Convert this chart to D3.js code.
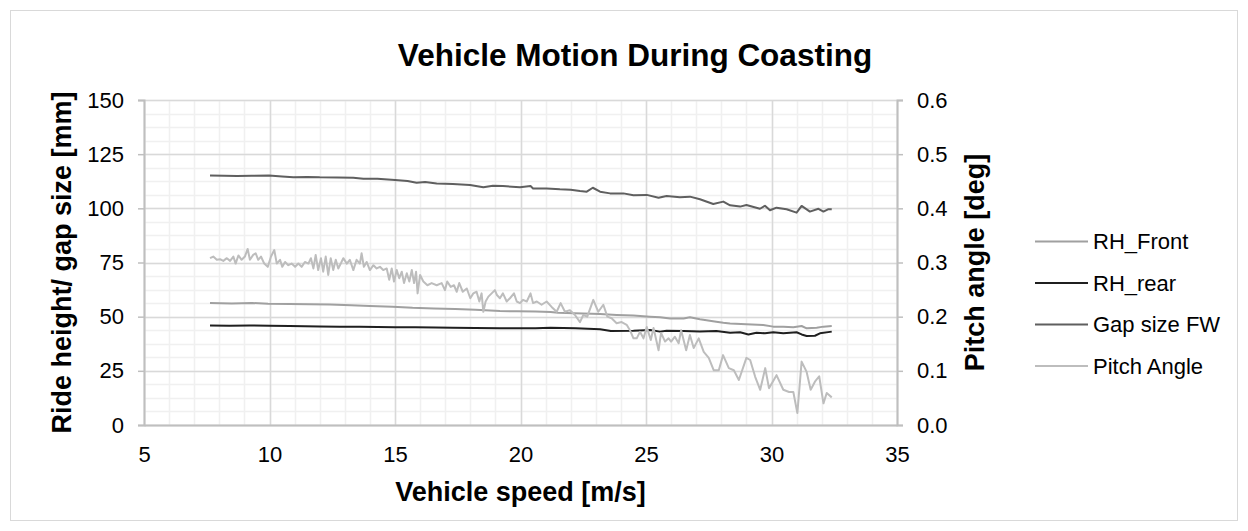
<!DOCTYPE html>
<html>
<head>
<meta charset="utf-8">
<script src="https://cdn.jsdelivr.net/npm/d3@7"></script>
<style>
  html, body { margin: 0; padding: 0; background: #ffffff; }
  svg { display: block; font-family: "Liberation Sans", Arial, sans-serif; }
</style>
</head>
<body>
<svg id="chart" width="1248" height="531"></svg>
<script>
// ---- data: vehicle speed [m/s] and measured quantities ----
const speedFront = [7.63, 8.5, 9.3, 9.94, 10.8, 11.6, 12.4, 13.25, 14.0, 14.9, 15.7, 16.55, 17.4, 18.2, 19.18, 19.86, 20.6, 21.2, 21.5, 22.5, 23.17, 23.83, 24.5, 25.16, 25.56, 25.96, 26.5, 26.75, 27.15, 27.8, 28.08, 28.35, 29.0, 29.67, 30.07, 30.47, 30.87, 31.2, 31.4, 31.8, 32.07, 32.4];
const rhFront = [56.3, 56.1, 56.3, 56.0, 55.9, 55.7, 55.6, 55.3, 54.9, 54.6, 54.1, 53.8, 53.5, 53.2, 52.6, 52.5, 52.4, 52.1, 51.8, 51.5, 51.2, 50.8, 50.5, 50.0, 49.7, 49.2, 49.2, 49.7, 48.8, 47.7, 47.2, 46.9, 46.5, 46.2, 45.4, 45.4, 45.1, 45.7, 44.6, 44.9, 45.4, 45.7];

const speedRear = [7.63, 8.4, 9.2, 10.0, 10.8, 11.4, 12.0, 12.8, 13.6, 14.3, 15.0, 15.8, 16.6, 17.3, 18.2, 19.18, 19.9, 20.6, 21.2, 22.2, 23.17, 23.6, 24.5, 25.16, 25.56, 25.82, 26.5, 27.15, 27.8, 28.35, 28.75, 29.08, 29.4, 29.74, 30.07, 30.47, 31.0, 31.2, 31.4, 31.73, 31.93, 32.4];
const rhRear = [45.9, 45.8, 45.9, 45.8, 45.7, 45.6, 45.5, 45.4, 45.3, 45.2, 45.1, 45.1, 45.0, 44.9, 44.8, 44.6, 44.7, 44.6, 44.9, 44.6, 44.2, 43.4, 43.5, 43.8, 43.1, 43.5, 43.4, 43.1, 43.4, 42.6, 42.8, 41.8, 42.6, 42.3, 42.8, 42.3, 42.8, 41.8, 41.1, 41.2, 42.3, 43.1];

const speedGap = [7.63, 8.2, 8.7, 9.3, 9.98, 10.5, 10.95, 11.5, 12.0, 12.7, 13.34, 13.74, 14.3, 15.0, 15.5, 15.86, 16.2, 16.66, 17.3, 17.99, 18.52, 18.9, 19.3, 19.98, 20.4, 20.5, 21.04, 21.57, 22.0, 22.37, 22.64, 22.88, 23.17, 23.57, 24.1, 24.5, 25.03, 25.5, 25.82, 26.35, 26.75, 27.15, 27.68, 28.08, 28.35, 28.75, 29.0, 29.54, 29.74, 29.94, 30.2, 30.6, 31.0, 31.2, 31.53, 31.87, 32.07, 32.27, 32.4];
const gapSizeFW = [115.1, 115.0, 114.9, 115.0, 115.2, 114.7, 114.3, 114.5, 114.3, 114.2, 114.1, 113.7, 113.6, 113.1, 112.6, 111.8, 112.2, 111.5, 111.2, 110.8, 109.7, 110.4, 110.3, 109.7, 110.3, 109.2, 109.2, 108.8, 108.6, 108.0, 107.7, 109.5, 107.7, 106.9, 106.9, 106.0, 106.2, 104.9, 105.7, 105.1, 105.4, 104.2, 102.0, 103.1, 101.4, 100.8, 101.5, 99.8, 101.2, 99.1, 100.3, 99.6, 98.0, 101.1, 98.5, 99.8, 98.5, 99.6, 99.6];

const speedPitch = [7.63, 7.76, 7.90, 8.03, 8.16, 8.30, 8.43, 8.56, 8.65, 8.76, 8.89, 9.02, 9.13, 9.22, 9.35, 9.45, 9.55, 9.66, 9.79, 9.93,
  10.06, 10.19, 10.29, 10.42, 10.51, 10.62, 10.75, 10.88, 11.02, 11.15, 11.28, 11.41, 11.55, 11.65, 11.75, 11.84, 11.94, 12.05, 12.14, 12.24,
  12.34, 12.44, 12.54, 12.64, 12.74, 12.86, 12.94, 13.08, 13.20, 13.34, 13.47, 13.60, 13.67, 13.76, 13.87, 14.00, 14.14, 14.27, 14.40, 14.53,
  14.67, 14.77, 14.87, 14.96, 15.07, 15.17, 15.27, 15.36, 15.47, 15.57, 15.67, 15.76, 15.84, 15.90, 16.00, 16.13, 16.29, 16.46, 16.66, 16.86,
  16.99, 17.08, 17.22, 17.35, 17.46, 17.56, 17.70, 17.86, 18.00, 18.12, 18.25, 18.36, 18.45, 18.52, 18.61, 18.72, 18.85, 18.98, 19.06,
  19.18, 19.30, 19.45, 19.58, 19.74, 19.85, 19.98, 20.10, 20.25, 20.40, 20.50, 20.65, 20.84, 21.04, 21.24, 21.44, 21.60, 21.77, 21.97, 22.17,
  22.37, 22.50, 22.66, 22.90, 23.10, 23.30, 23.46, 23.63, 23.83, 24.03, 24.23, 24.36, 24.50, 24.63, 24.76, 24.90, 25.03, 25.19, 25.30, 25.50,
  25.60, 25.76, 25.90, 26.00, 26.15, 26.30, 26.40, 26.60, 26.75, 26.90, 27.10, 27.30, 27.50, 27.70, 27.90, 28.07, 28.30, 28.50, 28.70, 29.00,
  29.15, 29.35, 29.55, 29.75, 29.90, 30.20, 30.47, 30.70, 30.87, 31.03, 31.20, 31.40, 31.56, 31.73, 31.90, 32.07, 32.20, 32.40];
const pitchAngle = [0.308, 0.311, 0.305, 0.306, 0.303, 0.308, 0.303, 0.311, 0.298, 0.313, 0.305, 0.311, 0.325, 0.305, 0.314, 0.317, 0.305, 0.311, 0.298, 0.292,
  0.311, 0.323, 0.298, 0.305, 0.292, 0.301, 0.295, 0.298, 0.292, 0.298, 0.292, 0.301, 0.298, 0.308, 0.289, 0.314, 0.286, 0.308, 0.283, 0.311,
  0.277, 0.308, 0.286, 0.305, 0.289, 0.300, 0.308, 0.298, 0.305, 0.286, 0.305, 0.298, 0.317, 0.292, 0.301, 0.286, 0.295, 0.289, 0.292, 0.286,
  0.289, 0.268, 0.289, 0.265, 0.286, 0.271, 0.283, 0.262, 0.280, 0.265, 0.286, 0.262, 0.283, 0.243, 0.277, 0.265, 0.258, 0.262, 0.258, 0.262,
  0.249, 0.265, 0.255, 0.258, 0.246, 0.262, 0.246, 0.252, 0.234, 0.243, 0.246, 0.228, 0.243, 0.209, 0.228, 0.237, 0.243, 0.249, 0.240,
  0.234, 0.243, 0.228, 0.234, 0.243, 0.228, 0.225, 0.231, 0.228, 0.243, 0.225, 0.228, 0.222, 0.228, 0.218, 0.209, 0.225, 0.209, 0.212, 0.203,
  0.190, 0.203, 0.200, 0.231, 0.209, 0.222, 0.200, 0.197, 0.188, 0.190, 0.185, 0.175, 0.160, 0.160, 0.172, 0.160, 0.181, 0.157, 0.179, 0.138,
  0.170, 0.154, 0.160, 0.154, 0.163, 0.151, 0.175, 0.138, 0.166, 0.142, 0.160, 0.135, 0.124, 0.101, 0.101, 0.129, 0.105, 0.101, 0.083, 0.124,
  0.120, 0.089, 0.065, 0.105, 0.068, 0.092, 0.065, 0.061, 0.061, 0.022, 0.117, 0.098, 0.065, 0.080, 0.090, 0.040, 0.059, 0.051];

// ---- axis ticks and labels ----
const xTicks = [5, 10, 15, 20, 25, 30, 35];
const yLeftTicks = [0, 25, 50, 75, 100, 125, 150];
const yRightTicks = [0, 0.1, 0.2, 0.3, 0.4, 0.5, 0.6];

const titleText = "Vehicle Motion During Coasting";
const xTitle = "Vehicle speed [m/s]";
const yLeftTitle = "Ride height/ gap size [mm]";
const yRightTitle = "Pitch angle [deg]";

const seriesNames = ["RH_Front", "RH_rear", "Gap size FW", "Pitch Angle"];
const seriesColors = ["#a0a0a0", "#1f1f1f", "#5f5f5f", "#bdbdbd"];

// ---- layout ----
const W = 1248, H = 531;
const plot = { left: 144, right: 897, top: 100, bottom: 425 };

const svg = d3.select("#chart");

// chart frame
svg.append("rect")
  .attr("x", 10.5).attr("y", 10.5)
  .attr("width", W - 21).attr("height", H - 21)
  .attr("fill", "#fff").attr("stroke", "#d9d9d9").attr("stroke-width", 1);

const x = d3.scaleLinear().domain([5, 35]).range([plot.left, plot.right]);
const yL = d3.scaleLinear().domain([0, 150]).range([plot.bottom, plot.top]);
const yR = d3.scaleLinear().domain([0, 0.6]).range([plot.bottom, plot.top]);

// minor gridlines
const g = svg.append("g");
const xMinor = d3.range(5, 35.001, 1);
const yMinor = d3.range(0, 150.001, 6.25);
g.selectAll(".vminor").data(xMinor).join("line")
  .attr("x1", d => Math.round(x(d)) + 0.5).attr("x2", d => Math.round(x(d)) + 0.5)
  .attr("y1", plot.top).attr("y2", plot.bottom)
  .attr("stroke", "#f0f0f0").attr("stroke-width", 1.5);
g.selectAll(".hminor").data(yMinor).join("line")
  .attr("x1", plot.left).attr("x2", plot.right)
  .attr("y1", d => Math.round(yL(d)) + 0.5).attr("y2", d => Math.round(yL(d)) + 0.5)
  .attr("stroke", "#f0f0f0").attr("stroke-width", 1.5);

// major gridlines
g.selectAll(".vmajor").data(xTicks).join("line")
  .attr("x1", d => Math.round(x(d)) + 0.5).attr("x2", d => Math.round(x(d)) + 0.5)
  .attr("y1", plot.top).attr("y2", plot.bottom)
  .attr("stroke", "#d9d9d9").attr("stroke-width", 1.5);
g.selectAll(".hmajor").data(yLeftTicks).join("line")
  .attr("x1", plot.left).attr("x2", plot.right)
  .attr("y1", d => Math.round(yL(d)) + 0.5).attr("y2", d => Math.round(yL(d)) + 0.5)
  .attr("stroke", "#d9d9d9").attr("stroke-width", 1.5);

// axes
const tickFont = "22px";
const axisColor = "#bfbfbf";

const xAxis = svg.append("g")
  .attr("transform", `translate(0,${plot.bottom})`)
  .call(d3.axisBottom(x).tickValues(xTicks).tickSize(0).tickPadding(21).tickFormat(d3.format("d")));
const yLeftAxis = svg.append("g")
  .attr("transform", `translate(${plot.left},0)`)
  .call(d3.axisLeft(yL).tickValues(yLeftTicks).tickSize(6).tickPadding(14).tickFormat(d3.format("d")));
const yRightAxis = svg.append("g")
  .attr("transform", `translate(${plot.right},0)`)
  .call(d3.axisRight(yR).tickValues(yRightTicks).tickSize(6).tickPadding(14).tickFormat(d3.format(".1f")));

[xAxis, yLeftAxis, yRightAxis].forEach(a => {
  a.select(".domain").attr("stroke", axisColor).attr("stroke-width", 2);
  a.selectAll(".tick line").attr("stroke", axisColor).attr("stroke-width", 1.5);
  a.selectAll(".tick text")
    .attr("fill", "#000")
    .style("font-size", tickFont)
    .style("font-family", "'Liberation Sans', Arial, sans-serif");
});

// series lines
const lineL = d3.line().x(d => x(d[0])).y(d => yL(d[1]));
const lineR = d3.line().x(d => x(d[0])).y(d => yR(d[1]));

const seriesData = [
  { pts: d3.zip(speedFront, rhFront), line: lineL },
  { pts: d3.zip(speedRear, rhRear), line: lineL },
  { pts: d3.zip(speedGap, gapSizeFW), line: lineL },
  { pts: d3.zip(speedPitch, pitchAngle), line: lineR }
];
svg.append("g").selectAll("path").data(d3.range(seriesData.length)).join("path")
  .attr("d", i => seriesData[i].line(seriesData[i].pts))
  .attr("fill", "none")
  .attr("stroke", i => seriesColors[i])
  .attr("stroke-width", 2)
  .attr("stroke-linejoin", "round");

// title
svg.append("text")
  .attr("x", 635).attr("y", 65.5)
  .attr("text-anchor", "middle")
  .style("font-size", "31.5px").style("font-weight", "bold")
  .text(titleText);

// axis titles
svg.append("text")
  .attr("x", (plot.left + plot.right) / 2).attr("y", 501)
  .attr("text-anchor", "middle")
  .style("font-size", "27px").style("font-weight", "bold")
  .text(xTitle);

svg.append("text")
  .attr("transform", `translate(71,${(plot.top + plot.bottom) / 2}) rotate(-90)`)
  .attr("text-anchor", "middle")
  .style("font-size", "27px").style("font-weight", "bold")
  .text(yLeftTitle);

svg.append("text")
  .attr("transform", `translate(984,${(plot.top + plot.bottom) / 2}) rotate(-90)`)
  .attr("text-anchor", "middle")
  .style("font-size", "27px").style("font-weight", "bold")
  .text(yRightTitle);

// legend
const legend = svg.append("g");
const legY = d => 241.5 + d * 41.5;
legend.selectAll("line").data(d3.range(seriesNames.length)).join("line")
  .attr("x1", 1035).attr("x2", 1088)
  .attr("y1", legY).attr("y2", legY)
  .attr("stroke", i => seriesColors[i]).attr("stroke-width", 2);
legend.selectAll("text").data(d3.range(seriesNames.length)).join("text")
  .attr("x", 1093).attr("y", legY).attr("dy", "0.35em")
  .style("font-size", "22px")
  .text(i => seriesNames[i]);
</script>
</body>
</html>
